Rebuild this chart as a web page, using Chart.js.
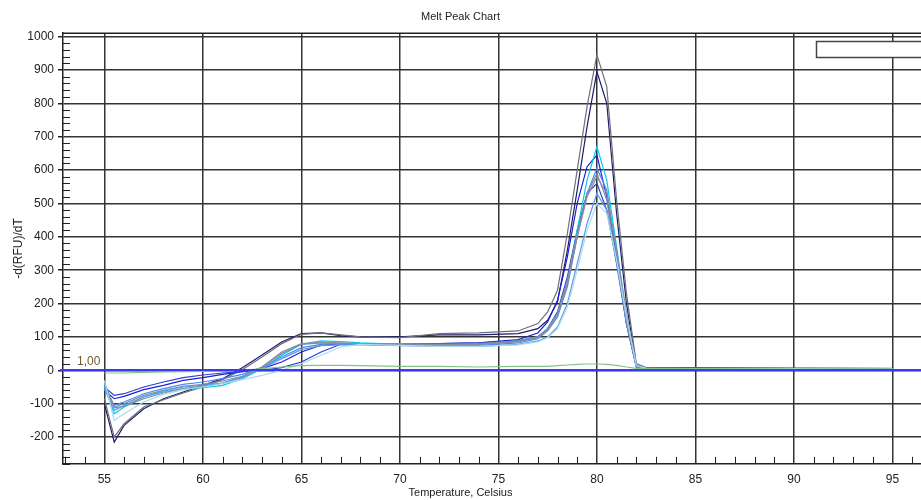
<!DOCTYPE html>
<html>
<head>
<meta charset="utf-8">
<title>Melt Peak Chart</title>
<script src="https://cdn.jsdelivr.net/npm/chart.js@4"></script>
<style>
  html, body { margin: 0; padding: 0; background: #fff; overflow: hidden; }
  #wrap { width: 921px; height: 500px; }
</style>
</head>
<body>
<div id="wrap"><canvas id="melt-chart" width="921" height="500"></canvas></div>
<script>
// temperatures (Celsius) shared by every well
const temps = [55, 55.5, 56, 57, 58, 59, 60, 61, 62, 63, 64, 65, 66, 67, 68, 70, 72, 74, 76, 77, 77.5, 78, 78.5, 79, 79.5, 80, 80.5, 81, 81.5, 82, 82.5, 85, 90, 95];

// -d(RFU)/dT per well
const wellNtc = [-8, -8, -8, -6, -5, -4, -3, -2, 0, 5, 10, 14, 15, 15, 14, 12, 12, 10, 12, 12, 12, 14, 16, 18, 19, 19, 18, 15, 10, 6, 5, 5, 4, 4];
const wellA = [-30, -150, -130, -95, -72, -58, -50, -40, -28, -15, 0, 20, 45, 70, 78, 75, 72, 72, 76, 85, 98, 125, 190, 300, 420, 500, 470, 330, 160, 15, 6, 5, 5, 4];
const wellB = [-55, -120, -105, -80, -62, -50, -45, -38, -22, 5, 35, 62, 74, 76, 76, 74, 72, 72, 78, 88, 100, 130, 200, 320, 440, 530, 480, 330, 150, 12, 5, 5, 5, 4];
const wellC = [-35, -112, -108, -85, -68, -55, -48, -38, -20, 10, 55, 80, 84, 82, 80, 80, 78, 78, 85, 98, 120, 165, 260, 400, 520, 580, 530, 360, 170, 15, 6, 5, 5, 5];
const wellD = [-40, -110, -100, -75, -60, -48, -42, -32, -18, 10, 50, 78, 82, 80, 80, 78, 78, 80, 88, 100, 125, 170, 270, 410, 530, 590, 510, 330, 140, 10, 5, 5, 5, 5];
const wellE = [-50, -105, -95, -70, -55, -42, -35, -25, -12, 8, 40, 68, 78, 80, 78, 76, 75, 75, 82, 95, 118, 160, 250, 400, 530, 605, 540, 350, 150, 12, 5, 5, 5, 4];
const wellF = [-45, -130, -110, -80, -65, -55, -52, -45, -25, 5, 45, 78, 88, 86, 82, 78, 76, 78, 88, 100, 125, 170, 260, 420, 570, 670, 570, 370, 160, 15, 6, 5, 5, 5];
const wellG = [-50, -75, -70, -50, -35, -22, -14, -8, -4, 0, 8, 25, 55, 78, 80, 80, 80, 82, 88, 100, 125, 175, 280, 420, 530, 560, 480, 320, 140, 10, 5, 5, 5, 5];
const wellH = [-60, -85, -78, -58, -45, -30, -22, -12, -4, 5, 25, 55, 75, 80, 80, 78, 80, 82, 92, 112, 145, 210, 340, 500, 610, 645, 520, 340, 140, 12, 5, 6, 5, 5];
const wellI = [-85, -200, -160, -110, -88, -68, -50, -28, 2, 40, 80, 108, 112, 106, 100, 98, 110, 112, 118, 140, 175, 240, 410, 600, 790, 945, 850, 510, 230, 20, 8, 8, 7, 6];
const wellJ = [-100, -215, -165, -115, -85, -65, -45, -25, 8, 46, 85, 110, 112, 104, 100, 100, 106, 106, 110, 125, 150, 205, 360, 540, 730, 895, 800, 470, 200, 15, 6, 6, 6, 5];

const xTicks = [55, 60, 65, 70, 75, 80, 85, 90, 95];
const yTicks = [-200, -100, 0, 100, 200, 300, 400, 500, 600, 700, 800, 900, 1000];
const threshold = 1;
const thresholdLabel = "1,00";

const family = "'Liberation Sans', Arial, sans-serif";
const ink = "#222";
const gridColor = "#333";

const wells = [
  { values: wellNtc, color: "#86c286" },
  { values: wellA, color: "#a8dcef" },
  { values: wellB, color: "#5a9ae8" },
  { values: wellC, color: "#8c8c9c" },
  { values: wellD, color: "#7a8aa8" },
  { values: wellE, color: "#4a8af0" },
  { values: wellF, color: "#00ccee" },
  { values: wellG, color: "#2840d8" },
  { values: wellH, color: "#1f1fd6" },
  { values: wellI, color: "#6e6e7c" },
  { values: wellJ, color: "#1c1c6e" },
];

// small inside ticks, top border, threshold and the empty legend box
const decor = {
  id: "decor",
  beforeDatasetsDraw(chart) {
    const { ctx, chartArea: a, scales: { x, y } } = chart;
    ctx.save();
    ctx.strokeStyle = ink;
    ctx.lineWidth = 1;
    ctx.beginPath();
    for (let v = Math.ceil(y.min / 20) * 20; v <= y.max; v += 20) {
      if (v % 100 === 0) continue;
      const py = Math.round(y.getPixelForValue(v)) + 0.5;
      ctx.moveTo(a.left, py);
      ctx.lineTo(a.left + 7, py);
    }
    for (let v = Math.ceil(x.min); v <= x.max; v += 1) {
      if (v % 5 === 0) continue;
      const px = Math.round(x.getPixelForValue(v)) + 0.5;
      ctx.moveTo(px, a.bottom);
      ctx.lineTo(px, a.bottom - 7);
    }
    ctx.stroke();
    ctx.lineWidth = 1.5;
    ctx.beginPath();
    ctx.moveTo(a.left, a.top);
    ctx.lineTo(a.right, a.top);
    ctx.stroke();
    ctx.restore();
  },
  afterDatasetsDraw(chart) {
    const { ctx, chartArea: a, scales: { y } } = chart;
    const py = y.getPixelForValue(threshold);
    ctx.save();
    ctx.strokeStyle = "#3a3af2";
    ctx.lineWidth = 2;
    ctx.beginPath();
    ctx.moveTo(a.left - 3, py);
    ctx.lineTo(a.right, py);
    ctx.stroke();
    ctx.fillStyle = "#6e5c32";
    ctx.font = "12px " + family;
    ctx.textBaseline = "middle";
    ctx.fillText(thresholdLabel, a.left + 14, py - 8);

    ctx.fillStyle = "#fff";
    ctx.fillRect(816.5, 41.5, 140, 16);
    ctx.strokeStyle = "#444";
    ctx.lineWidth = 1.5;
    ctx.strokeRect(816.5, 41.5, 140, 16);
    ctx.restore();
  },
};

new Chart(document.getElementById("melt-chart"), {
  type: "line",
  data: {
    datasets: wells.map((w) => ({
      data: temps.map((t, i) => ({ x: t, y: w.values[i] })),
      borderColor: w.color,
      borderWidth: 1.2,
      pointRadius: 0,
      tension: 0,
      fill: false,
    })),
  },
  options: {
    responsive: false,
    animation: false,
    layout: { padding: 0 },
    plugins: {
      legend: { display: false },
      tooltip: { enabled: false },
      title: {
        display: true,
        text: "Melt Peak Chart",
        color: ink,
        font: { family, size: 11, weight: "normal" },
        padding: { top: 10, bottom: 10 },
      },
      subtitle: {
        display: true,
        position: "bottom",
        text: "Temperature, Celsius",
        color: ink,
        font: { family, size: 11, weight: "normal" },
        padding: { top: 0, bottom: 0 },
      },
    },
    scales: {
      x: {
        type: "linear",
        min: 52.9,
        max: 96.45,
        afterBuildTicks: (s) => { s.ticks = xTicks.map((v) => ({ value: v })); },
        afterFit: (s) => { s.height = 23; },
        grid: { color: gridColor, lineWidth: 1.5, drawTicks: false },
        border: { color: ink, width: 1.5 },
        ticks: { color: ink, font: { family, size: 12 }, padding: 9, maxRotation: 0, callback: (v) => String(v) },
      },
      y: {
        min: -280,
        max: 1010,
        afterBuildTicks: (s) => { s.ticks = yTicks.map((v) => ({ value: v })); },
        afterFit: (s) => { s.width = 63; },
        grid: { color: gridColor, lineWidth: 1.5, drawTicks: true, tickLength: 5, tickColor: ink },
        border: { color: ink, width: 1.5 },
        ticks: { color: ink, font: { family, size: 12 }, padding: 4, callback: (v) => String(v) },
        title: {
          display: true,
          text: "-d(RFU)/dT",
          color: ink,
          font: { family, size: 12 },
          padding: { top: 11, bottom: 0 },
        },
      },
    },
  },
  plugins: [decor],
});
</script>
</body>
</html>
